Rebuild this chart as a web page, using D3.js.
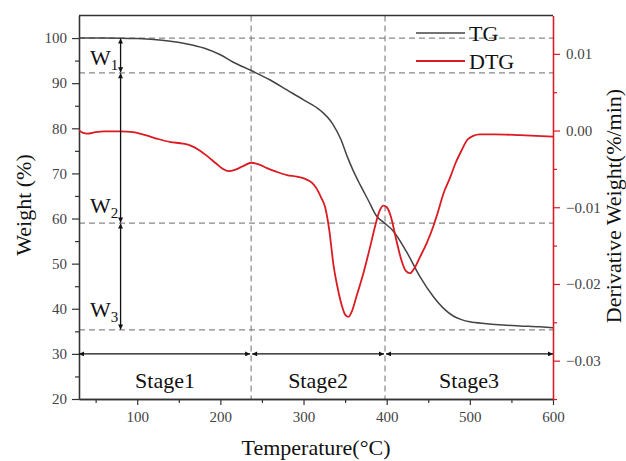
<!DOCTYPE html>
<html>
<head>
<meta charset="utf-8">
<script src="https://cdn.jsdelivr.net/npm/d3@7"></script>
<style>
  html, body { margin: 0; padding: 0; background: #fff; }
  svg text { font-family: "Liberation Serif", "Times New Roman", serif; }
  .tick text { fill: #444; font-size: 15px; }
</style>
</head>
<body>
<svg id="chart" width="626" height="461"></svg>
<script>
// ── Data ──────────────────────────────────────────────────────────────
var tgData = [
  [30, 100], [60, 100], [80, 99.98], [100, 99.9], [120, 99.7], [140, 99.3],
  [160, 98.7], [180, 97.8], [200, 96.3], [215, 94.7], [237, 92.8], [260, 90.7],
  [280, 88.5], [300, 86.3], [320, 84], [335, 81], [345, 77.5], [352, 74],
  [360, 70.5], [368, 67.5], [378, 64], [388, 60.5], [396, 59.2], [408, 57.2],
  [424, 52.6], [440, 47.1], [456, 42.7], [470, 39.8], [480, 38.4], [490, 37.6],
  [500, 37.1], [520, 36.7], [540, 36.4], [560, 36.2], [584, 36.0], [600, 35.8]
];
var dtgData = [
  [30, 0.0], [35, -0.0003], [40, -0.0004], [50, -0.0002], [60, -0.0001], [80, -0.0001],
  [95, -0.0002], [110, -0.0006], [125, -0.0011], [140, -0.0015], [155, -0.0017],
  [165, -0.0020], [175, -0.0026], [185, -0.0034], [195, -0.0043], [203, -0.0050],
  [210, -0.0053], [218, -0.0051], [228, -0.0046], [237, -0.0042], [246, -0.0044],
  [256, -0.0049], [268, -0.0054], [280, -0.0058], [292, -0.0060], [302, -0.0063],
  [310, -0.0068], [316, -0.0076], [321, -0.0087], [326, -0.0100], [331, -0.0130],
  [336, -0.0175], [341, -0.0205], [346, -0.0228], [350, -0.0240], [354, -0.0243],
  [358, -0.0236], [364, -0.0215], [372, -0.0186], [380, -0.0152], [386, -0.0125],
  [391, -0.0106], [396, -0.0098], [400, -0.0100], [405, -0.0112], [411, -0.0140],
  [418, -0.0170], [423, -0.0183], [428, -0.0186], [433, -0.0180], [440, -0.0165],
  [448, -0.0147], [456, -0.0125], [462, -0.0105], [468, -0.0083], [476, -0.0062],
  [483, -0.0042], [490, -0.0026], [497, -0.0012], [504, -0.0007], [512, -0.0005],
  [530, -0.0005], [560, -0.0006], [600, -0.0008]
];

var xTicks      = [100, 200, 300, 400, 500, 600];
var xMinorTicks = [50, 150, 250, 350, 450, 550];
var yTicks      = [20, 30, 40, 50, 60, 70, 80, 90, 100];
var yMinorTicks = [25, 35, 45, 55, 65, 75, 85, 95];
var y2Ticks      = [-0.03, -0.02, -0.01, 0.00, 0.01];
var y2MinorTicks = [-0.035, -0.025, -0.015, -0.005, 0.005];

var weightLevels = [100, 92.3, 59, 35.3];      // dashed levels / W arrows
var stageBounds  = [30, 237, 398, 600];        // vertical dashed / stage arrows
var stageNames   = ['Stage1', 'Stage2', 'Stage3'];
var wNames       = ['1', '2', '3'];
var arrowT       = 80;                          // temperature of the W arrows
var stageLevel   = 30;                          // weight level of stage arrows

// ── Layout ────────────────────────────────────────────────────────────
var M = { left: 79, right: 553, top: 15.5, bottom: 399 };
var RED = '#dc1a22', GREY = '#888', AX = '#333';

var svg = d3.select('#chart');
var x  = d3.scaleLinear().domain([30, 600]).range([M.left, M.right]);
var y  = d3.scaleLinear().domain([20, 105]).range([M.bottom, M.top]);
var y2 = d3.scaleLinear().domain([-0.035, 0.015]).range([M.bottom, M.top]);

var defs = svg.append('defs');
defs.append('marker').attr('id', 'ah').attr('viewBox', '0 0 10 10')
  .attr('refX', 10).attr('refY', 5).attr('markerWidth', 7).attr('markerHeight', 5)
  .attr('markerUnits', 'userSpaceOnUse').attr('orient', 'auto-start-reverse')
  .append('path').attr('d', 'M0,0L10,5L0,10z').attr('fill', '#111');

// ── Dashed guides ─────────────────────────────────────────────────────
var guides = svg.append('g').attr('stroke', GREY).attr('stroke-width', 1.2)
  .attr('stroke-dasharray', '6,4').attr('fill', 'none');
guides.selectAll('line.h').data(weightLevels).join('line').attr('class', 'h')
  .attr('x1', M.left).attr('x2', M.right)
  .attr('y1', function (d) { return y(d); }).attr('y2', function (d) { return y(d); });
guides.selectAll('line.v').data(stageBounds.slice(1, 3)).join('line').attr('class', 'v')
  .attr('y1', M.top).attr('y2', M.bottom)
  .attr('x1', function (d) { return x(d); }).attr('x2', function (d) { return x(d); });

// ── Axes ──────────────────────────────────────────────────────────────
function styleAxis(g, color) {
  g.select('.domain').attr('stroke', color).attr('stroke-width', 1.3);
  g.selectAll('.tick line').attr('stroke', color).attr('stroke-width', 1.2);
}

svg.append('g').attr('transform', 'translate(0,' + M.bottom + ')')
  .call(d3.axisBottom(x).tickValues(xMinorTicks).tickSize(4).tickFormat('').tickSizeOuter(0))
  .call(styleAxis, AX);
svg.append('g').attr('transform', 'translate(0,' + M.bottom + ')')
  .call(d3.axisBottom(x).tickValues(xTicks).tickSize(6).tickPadding(6).tickSizeOuter(0))
  .call(styleAxis, AX);

svg.append('g').attr('transform', 'translate(' + M.left + ',0)')
  .call(d3.axisLeft(y).tickValues(yMinorTicks).tickSize(4).tickFormat('').tickSizeOuter(0))
  .call(styleAxis, AX);
svg.append('g').attr('transform', 'translate(' + M.left + ',0)')
  .call(d3.axisLeft(y).tickValues(yTicks).tickSize(7).tickPadding(5).tickSizeOuter(0))
  .call(styleAxis, AX);

svg.append('g').attr('transform', 'translate(' + M.right + ',0)')
  .call(d3.axisRight(y2).tickValues(y2MinorTicks).tickSize(4).tickFormat('').tickSizeOuter(0))
  .call(styleAxis, RED);
svg.append('g').attr('transform', 'translate(' + M.right + ',0)')
  .call(d3.axisRight(y2).tickValues(y2Ticks).tickSize(7).tickPadding(6)
    .tickFormat(d3.format('.2f')).tickSizeOuter(0))
  .call(styleAxis, RED);

// top frame line
svg.append('line').attr('x1', M.left).attr('x2', M.right)
  .attr('y1', M.top).attr('y2', M.top).attr('stroke', AX).attr('stroke-width', 1.3);

// ── Curves ────────────────────────────────────────────────────────────
var tgLine = d3.line().x(function (d) { return x(d[0]); }).y(function (d) { return y(d[1]); })
  .curve(d3.curveMonotoneX);
var dtgLine = d3.line().x(function (d) { return x(d[0]); }).y(function (d) { return y2(d[1]); })
  .curve(d3.curveMonotoneX);

svg.append('path').datum(tgData).attr('d', tgLine)
  .attr('fill', 'none').attr('stroke', '#444').attr('stroke-width', 1.5);
svg.append('path').datum(dtgData).attr('d', dtgLine)
  .attr('fill', 'none').attr('stroke', RED).attr('stroke-width', 1.8);

// ── Arrows ────────────────────────────────────────────────────────────
var arrows = svg.append('g').attr('stroke', '#111').attr('stroke-width', 1.3);
d3.range(3).forEach(function (i) {
  arrows.append('line')
    .attr('x1', x(arrowT)).attr('x2', x(arrowT))
    .attr('y1', y(weightLevels[i]) + 0.5).attr('y2', y(weightLevels[i + 1]) - 0.5)
    .attr('marker-start', 'url(#ah)').attr('marker-end', 'url(#ah)');
  arrows.append('line')
    .attr('y1', y(stageLevel)).attr('y2', y(stageLevel))
    .attr('x1', x(stageBounds[i]) + (i ? 1 : 0)).attr('x2', x(stageBounds[i + 1]) - (i < 2 ? 1 : 0))
    .attr('marker-start', 'url(#ah)').attr('marker-end', 'url(#ah)');
});

// ── Labels ────────────────────────────────────────────────────────────
var wBase = [65, 213, 317];
wNames.forEach(function (n, i) {
  var t = svg.append('text').attr('x', 90).attr('y', wBase[i])
    .attr('font-size', 22).attr('fill', '#111');
  t.append('tspan').text('W');
  t.append('tspan').attr('dy', 5).attr('font-size', 15).text(n);
});

svg.selectAll('text.stage').data(stageNames).join('text').attr('class', 'stage')
  .attr('x', function (d, i) { return (x(stageBounds[i]) + x(stageBounds[i + 1])) / 2; })
  .attr('y', 388).attr('text-anchor', 'middle').attr('font-size', 22).attr('fill', '#111')
  .text(function (d) { return d; });

// axis titles
svg.append('text').attr('x', (M.left + M.right) / 2).attr('y', 455)
  .attr('text-anchor', 'middle').attr('font-size', 22).attr('fill', '#111')
  .text('Temperature(°C)');
svg.append('text').attr('transform', 'translate(31,205) rotate(-90)')
  .attr('text-anchor', 'middle').attr('font-size', 22).attr('fill', '#111')
  .text('Weight (%)');
svg.append('text').attr('transform', 'translate(621,206) rotate(-90)')
  .attr('text-anchor', 'middle').attr('font-size', 22).attr('fill', '#111')
  .text('Derivative Weight(%/min)');

// ── Legend ────────────────────────────────────────────────────────────
var legend = [{ name: 'TG', color: '#444', cy: 33 }, { name: 'DTG', color: RED, cy: 61 }];
var lg = svg.append('g');
legend.forEach(function (d) {
  lg.append('line').attr('x1', 416).attr('x2', 465).attr('y1', d.cy).attr('y2', d.cy)
    .attr('stroke', d.color).attr('stroke-width', d.name === 'TG' ? 1.5 : 1.8);
  lg.append('text').attr('x', 469).attr('y', d.cy + 7.5).attr('font-size', 22)
    .attr('fill', '#111').text(d.name);
});
</script>
</body>
</html>
